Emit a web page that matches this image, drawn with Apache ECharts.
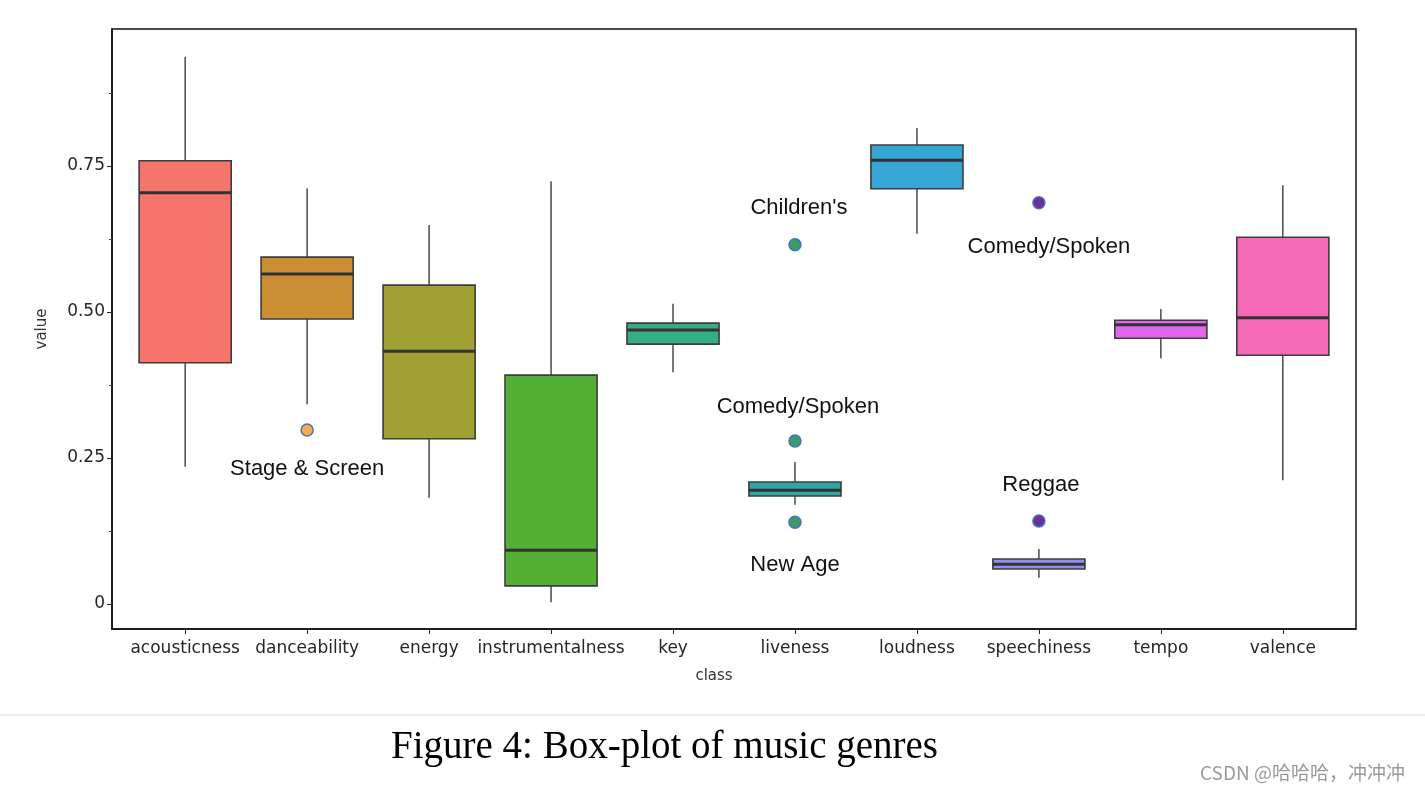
<!DOCTYPE html>
<html>
<head>
<meta charset="utf-8">
<title>Box-plot of music genres</title>
<script src="https://cdn.jsdelivr.net/npm/echarts@6/dist/echarts.min.js"></script>
<style>
  html, body { margin: 0; padding: 0; background: #fff; }
  #main { width: 1425px; height: 794px; }
</style>
</head>
<body>
<div id="main"></div>
<script>
// audio features (x categories)
var features = ['acousticness', 'danceability', 'energy', 'instrumentalness', 'key',
                'liveness', 'loudness', 'speechiness', 'tempo', 'valence'];

// box stats: lower whisker, Q1, median, Q3, upper whisker
var whiskerLow  = [0.235, 0.342, 0.182, 0.003, 0.397, 0.170, 0.634, 0.045, 0.421, 0.212];
var q1Values    = [0.413, 0.488, 0.283, 0.031, 0.445, 0.185, 0.711, 0.060, 0.455, 0.426];
var medians     = [0.704, 0.565, 0.433, 0.092, 0.469, 0.195, 0.760, 0.068, 0.478, 0.490];
var q3Values    = [0.759, 0.594, 0.546, 0.392, 0.481, 0.209, 0.786, 0.077, 0.486, 0.628];
var whiskerHigh = [0.937, 0.712, 0.649, 0.724, 0.514, 0.243, 0.815, 0.094, 0.505, 0.717];

// outliers (genres)
var outlierFeature = [1, 5, 5, 5, 7, 7];
var outlierValues  = [0.298, 0.615, 0.279, 0.140, 0.687, 0.142];
var outlierGenres  = ['Stage & Screen', "Children's", 'Comedy/Spoken', 'New Age', 'Comedy/Spoken', 'Reggae'];

var yTickValues = [0, 0.25, 0.5, 0.75];
var yTickLabels = ['0', '0.25', '0.50', '0.75'];
var yMinorTicks = [0.125, 0.375, 0.625, 0.875];

var boxColors = ['#f5756a', '#cc8e33', '#a1a033', '#53b034', '#33ae86',
                 '#2ea7a4', '#38a6d4', '#8f8ff5', '#e266f0', '#f56ab7'];
var outlierFill = { 1: '#f4ae4e', 5: '#3a9b6f', 7: '#6b2fa0' };
var labelSide = ['bottom', 'top', 'top', 'bottom', 'bottom', 'top'];
var labelShift = [[0, 0], [4, 2], [3, 5], [0, 4], [10, 5], [2, 3]];

var boxData = features.map(function (f, i) {
  return [i, whiskerLow[i], q1Values[i], medians[i], q3Values[i], whiskerHigh[i]];
});

var outlierData = outlierValues.map(function (v, i) {
  return {
    value: [outlierFeature[i], v],
    name: outlierGenres[i],
    itemStyle: { color: outlierFill[outlierFeature[i]] },
    label: { position: labelSide[i], offset: labelShift[i] }
  };
});

var yMin = -0.0428, yMax = 0.9846;
var featureIdx = features.map(function (f, i) { return i; });

var chart = echarts.init(document.getElementById('main'));
chart.setOption({
  animation: false,
  backgroundColor: '#fff',
  grid: {
    left: 112, right: 69, top: 29, bottom: 165,
    show: true, borderColor: '#111', borderWidth: 1.5, backgroundColor: '#fff'
  },
  xAxis: {
    type: 'value', min: -0.6, max: 9.6,
    name: 'class', nameLocation: 'middle', nameGap: 40,
    nameTextStyle: { fontFamily: 'DejaVu Sans', fontSize: 15, color: '#333', padding: [0, 40, 0, 0] },
    splitLine: { show: false },
    axisLine: { show: true, onZero: false, lineStyle: { color: '#111', width: 1.5 } },
    axisTick: { show: true, length: 5, customValues: featureIdx,
                lineStyle: { color: '#222', width: 1 } },
    axisLabel: {
      customValues: featureIdx,
      formatter: function (v) { return features[Math.round(v)]; },
      fontFamily: 'DejaVu Sans', fontSize: 17, color: '#262626', margin: 11
    }
  },
  yAxis: [{
    type: 'value', min: yMin, max: yMax,
    name: 'value', nameLocation: 'middle', nameGap: 62,
    nameTextStyle: { fontFamily: 'DejaVu Sans', fontSize: 15, color: '#333' },
    splitLine: { show: false },
    axisLine: { show: true, onZero: false, lineStyle: { color: '#111', width: 1.5 } },
    axisTick: { show: true, length: 5, customValues: yTickValues, lineStyle: { color: '#222', width: 1 } },
    axisLabel: {
      customValues: yTickValues,
      formatter: function (v) {
        var k = yTickValues.indexOf(v);
        return k >= 0 ? yTickLabels[k] : '';
      },
      fontFamily: 'DejaVu Sans', fontSize: 17, color: '#262626', margin: 7
    }
  }, {
    type: 'value', min: yMin, max: yMax, position: 'left',
    splitLine: { show: false },
    axisLine: { show: false, onZero: false },
    axisTick: { show: true, length: 3, customValues: yMinorTicks, lineStyle: { color: '#444', width: 1 } },
    axisLabel: { show: false }
  }],
  series: [{
    type: 'custom',
    data: boxData,
    encode: { x: 0, y: [1, 2, 3, 4, 5] },
    renderItem: function (params, api) {
      var x = api.value(0);
      var w = api.size([0.755, 0])[0];
      var lo = api.coord([x, api.value(1)]);
      var q1 = api.coord([x, api.value(2)]);
      var md = api.coord([x, api.value(3)]);
      var q3 = api.coord([x, api.value(4)]);
      var hi = api.coord([x, api.value(5)]);
      var cx = lo[0];
      var wStyle = { stroke: '#4a4a4a', lineWidth: 1.5 };
      return {
        type: 'group',
        children: [
          { type: 'line', shape: { x1: cx, y1: lo[1], x2: cx, y2: q1[1] }, style: wStyle },
          { type: 'line', shape: { x1: cx, y1: q3[1], x2: cx, y2: hi[1] }, style: wStyle },
          { type: 'rect', shape: { x: cx - w / 2, y: q3[1], width: w, height: q1[1] - q3[1] },
            style: { fill: boxColors[params.dataIndex], stroke: '#3c3c3c', lineWidth: 1.6 } },
          { type: 'line', shape: { x1: cx - w / 2, y1: md[1], x2: cx + w / 2, y2: md[1] },
            style: { stroke: '#333', lineWidth: 3 } }
        ]
      };
    }
  }, {
    type: 'scatter',
    data: outlierData,
    symbolSize: 12,
    itemStyle: { borderColor: '#4a72b8', borderWidth: 1.5, opacity: 1 },
    label: {
      show: true, distance: 21,
      formatter: function (p) { return p.name; },
      fontFamily: 'Liberation Sans', fontSize: 22, color: '#111'
    },
    z: 5
  }],
  graphic: [
    { type: 'line', shape: { x1: 0, y1: 715, x2: 1425, y2: 715 },
      style: { stroke: '#dddddd', lineWidth: 1 } },
    { type: 'text', left: 391, top: 728,
      style: { text: 'Figure 4: Box-plot of music genres', font: '39px "Liberation Serif"', fill: '#000' } },
    { type: 'text', left: 1200, top: 763,
      style: { text: 'CSDN @哈哈哈，冲冲冲', font: '19px "Noto Sans CJK SC"', fill: '#9a9a9a' } }
  ]
});
</script>
</body>
</html>
